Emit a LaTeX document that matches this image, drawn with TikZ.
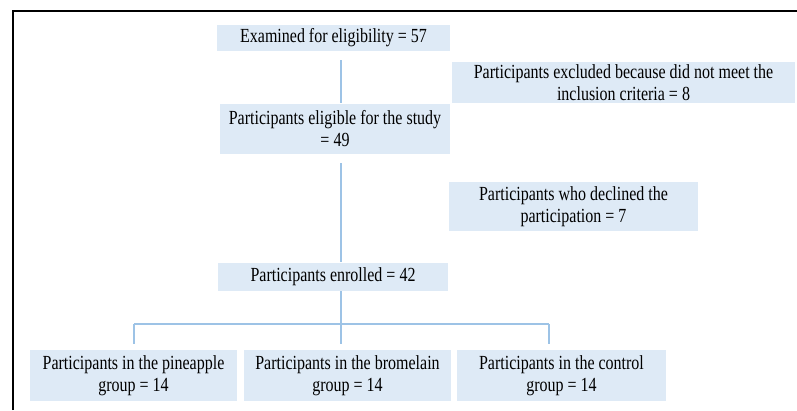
\documentclass[tikz,border=0pt]{standalone}
\usepackage{fontspec}
\setmainfont{Liberation Serif}[FakeStretch=0.8]
\definecolor{boxfill}{HTML}{DEEAF6}
\definecolor{linkcol}{HTML}{9DC3E6}
\begin{document}
\begin{tikzpicture}[x=1pt,y=-1pt,
  box/.style={fill=boxfill,draw=none,inner sep=0pt,align=center,
    font=\fontsize{20}{22}\selectfont},
  link/.style={draw=linkcol,line width=2pt}]
\useasboundingbox (0,0) rectangle (797,410);
\fill[white] (0,0) rectangle (797,410);
% frame
\draw[black,line width=2.5pt] (13,410) -- (13,11) -- (797,11);
% boxes
\node[box,minimum width=233pt,minimum height=26pt] (b1) at (333.5,38) {Examined for eligibility = 57};
\node[box,minimum width=343pt,minimum height=41pt] (ex) at (623.5,82.5) {Participants excluded because did not meet the\\inclusion criteria = 8};
\node[box,minimum width=230pt,minimum height=50pt] (b2) at (335,129) {Participants eligible for the study\\= 49};
\node[box,minimum width=249pt,minimum height=49pt] (dec) at (573.5,206.5) {Participants who declined the\\participation = 7};
\node[box,minimum width=230pt,minimum height=28pt] (b3) at (333,277) {Participants enrolled = 42};
\node[box,minimum width=207pt,minimum height=51pt] (p) at (133.5,375.5) {Participants in the pineapple\\group = 14};
\node[box,minimum width=207pt,minimum height=51pt] (br) at (347.5,375.5) {Participants in the bromelain\\group = 14};
\node[box,minimum width=209pt,minimum height=51pt] (c) at (561.5,375.5) {Participants in the control\\group = 14};
% connector coordinates
\coordinate (l1a) at (341,60);
\coordinate (l1b) at (341,103);
\coordinate (l2a) at (341,163);
\coordinate (l2b) at (341,262);
\coordinate (l3a) at (341,291);
\coordinate (hub) at (341,324);
\coordinate (hl) at (134,324);
\coordinate (hr) at (549,324);
\coordinate (dl) at (134,344);
\coordinate (dm) at (341,344);
\coordinate (dr) at (549,344);
% connectors
\draw[link] (l1a) -- (l1b);
\draw[link] (l2a) -- (l2b);
\draw[link] (l3a) -- (hub);
\draw[link] (hl) -- (hr);
\draw[link] (hl) -- (dl);
\draw[link] (hub) -- (dm);
\draw[link] (hr) -- (dr);
\end{tikzpicture}
\end{document}
